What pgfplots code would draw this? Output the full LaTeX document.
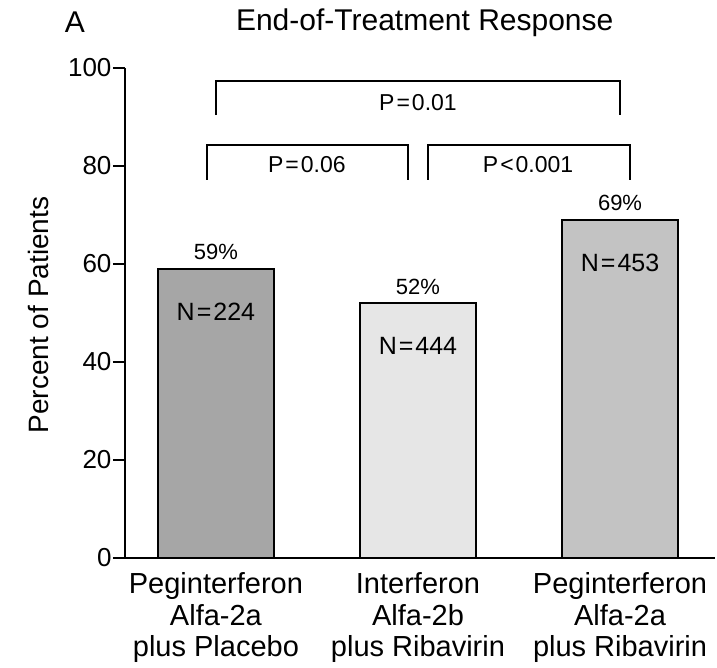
\documentclass[border=0pt]{standalone}
\usepackage{fontspec}
\setmainfont{Liberation Sans}
\usepackage{pgfplots}
\pgfplotsset{compat=1.18}

\definecolor{barA}{HTML}{A6A6A6}
\definecolor{barB}{HTML}{E6E6E6}
\definecolor{barC}{HTML}{C3C3C3}

\newcommand{\fs}[1]{\fontsize{#1}{#1}\selectfont}

\begin{document}
\begin{tikzpicture}
\useasboundingbox (-125pt,-110pt) rectangle (592pt,558pt);
\begin{axis}[
  at={(0pt,0pt)}, anchor=south west,
  scale only axis, width=590pt, height=490pt,
  xmin=-0.450, xmax=2.470,
  ymin=0, ymax=100,
  clip=false,
  axis lines=left,
  axis line style={-, line width=1.6pt},
  ytick={0,20,...,100},
  ytick align=outside,
  major tick length=12pt,
  ytick style={line width=1.6pt, black},
  xtick={0,1,2},
  xtick style={draw=none},
  xticklabels={{Peginterferon\\Alfa-2a\\plus Placebo},
                {Interferon\\Alfa-2b\\plus Ribavirin},
                {Peginterferon\\Alfa-2a\\plus Ribavirin}},
  x tick label style={align=center, font=\fontsize{29}{31.5}\selectfont, yshift=-5pt},
  y tick label style={font=\fs{26}, xshift=2pt},
  /pgf/number format/assume math mode=true,
  ylabel={Percent of Patients},
  ylabel style={at={(axis description cs:-0.147,0.496)}, anchor=center, font=\fs{28}},
  title={End-of-Treatment Response},
  title style={at={(axis description cs:0.508,1.081)}, anchor=center, font=\fs{30}},
  every node near coord/.append style={font=\fs{22}, anchor=south, inner sep=0pt, yshift=8pt, black},
  nodes near coords={\pgfmathprintnumber{\pgfplotspointmeta}\%},
]
\addplot[ybar, bar width=116pt, bar shift=0pt, fill=barA, draw=black, line width=1.6pt]
  coordinates {(0,59)};
\addplot[ybar, bar width=116pt, bar shift=0pt, fill=barB, draw=black, line width=1.6pt]
  coordinates {(1,52)};
\addplot[ybar, bar width=116pt, bar shift=0pt, fill=barC, draw=black, line width=1.6pt]
  coordinates {(2,69)};

% sample sizes inside the bars
\node[font=\fs{25}, yshift=-43pt] at (axis cs:0,59) {N\hspace{2pt}=\hspace{2pt}224};
\node[font=\fs{25}, yshift=-43pt] at (axis cs:1,52) {N\hspace{2pt}=\hspace{2pt}444};
\node[font=\fs{25}, yshift=-43pt] at (axis cs:2,69) {N\hspace{2pt}=\hspace{2pt}453};

% comparison brackets
\draw[line width=1.6pt] (axis cs:0,90.4) -- (axis cs:0,97.4) -- (axis cs:2,97.4) -- (axis cs:2,90.4);
\draw[line width=1.6pt] (axis cs:-0.045,77.2) -- (axis cs:-0.045,84.3) -- (axis cs:0.95,84.3) -- (axis cs:0.95,77.2);
\draw[line width=1.6pt] (axis cs:1.05,77.2) -- (axis cs:1.05,84.3) -- (axis cs:2.05,84.3) -- (axis cs:2.05,77.2);
\node[font=\fs{23}] at (axis cs:1,92.9) {P\hspace{2pt}=\hspace{2pt}0.01};
\node[font=\fs{23}] at (axis cs:0.45,80.2) {P\hspace{2pt}=\hspace{2pt}0.06};
\node[font=\fs{23}] at (axis cs:1.545,80.2) {P\hspace{2pt}<\hspace{2pt}0.001};

\node[font=\fs{30}] at (axis description cs:-0.085,1.094) {A};
\end{axis}
\end{tikzpicture}
\end{document}
